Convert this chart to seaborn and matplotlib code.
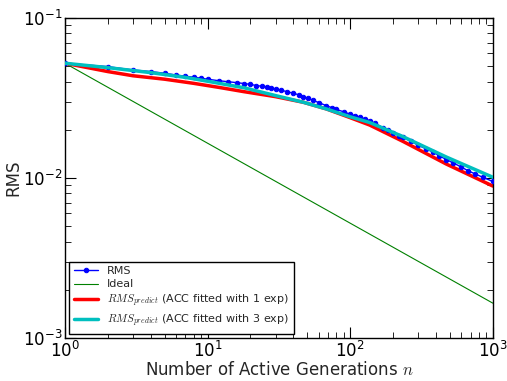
import numpy as np
import pandas as pd
import matplotlib
matplotlib.use("Agg")
import matplotlib.pyplot as plt
import seaborn as sns

# --- data ---
rms_n = [1, 2, 3, 4, 5, 6, 7, 8, 9, 10, 12, 14, 16, 18, 20, 22, 24, 26, 28, 30,
         33, 36, 40, 44, 47, 51, 55, 60, 68, 74, 80, 90, 100, 108, 117, 127, 137,
         150, 170, 185, 200, 220, 235, 265, 300, 340, 380, 420, 473, 530, 600,
         670, 750, 850, 1000]
rms_v = [0.0521, 0.0496, 0.0473, 0.0462, 0.0451, 0.0440, 0.0432, 0.0426, 0.0420,
         0.0414, 0.0405, 0.0399, 0.0394, 0.0389, 0.0384, 0.0378, 0.0374, 0.0370,
         0.0365, 0.0360, 0.0353, 0.0346, 0.0338, 0.0330, 0.0322, 0.0314, 0.0305,
         0.0296, 0.0283, 0.0275, 0.0268, 0.0259, 0.0250, 0.0245, 0.0240, 0.0234,
         0.0228, 0.0219, 0.0206, 0.0199, 0.0192, 0.0184, 0.0179, 0.0170, 0.0160,
         0.0152, 0.0145, 0.0138, 0.0130, 0.0124, 0.0117, 0.0111, 0.0106, 0.0101,
         0.0095]

ideal_n = [1, 1000]
ideal_v = [0.0521, 0.00165]

pred1_n = [1, 2, 3, 5, 8, 12, 18, 30, 47, 68, 100, 137, 235, 473, 1000]
pred1_v = [0.0521, 0.0462, 0.0435, 0.0414, 0.0390, 0.0368, 0.0346, 0.0322, 0.0297,
           0.0270, 0.0238, 0.0214, 0.0169, 0.0122, 0.0089]

pred3_n = [1, 2, 4, 7, 10, 18, 30, 47, 68, 100, 137, 235, 473, 1000]
pred3_v = [0.0521, 0.0489, 0.0455, 0.0425, 0.0402, 0.0366, 0.0327, 0.0297, 0.0270,
           0.0241, 0.0222, 0.0181, 0.0135, 0.0101]

labels = ["RMS", "Ideal",
          r"$RMS_{predict}$ (ACC fitted with 1 exp)",
          r"$RMS_{predict}$ (ACC fitted with 3 exp)"]

sns.set_style("ticks")
plt.rcParams.update({
    "font.family": ["DejaVu Sans"],
    "mathtext.fontset": "cm",
    "xtick.direction": "in", "ytick.direction": "in",
    "xtick.top": True, "ytick.right": True,
    "xtick.major.size": 8, "ytick.major.size": 8,
    "xtick.minor.size": 4, "ytick.minor.size": 4,
    "xtick.major.width": 0.8, "ytick.major.width": 0.8,
    "axes.edgecolor": "black", "axes.linewidth": 1.0,
    "xtick.color": "black", "ytick.color": "black",
})

fig = plt.figure(figsize=(5.07, 3.81), dpi=100)
ax = fig.add_axes([0.128, 0.113, 0.844, 0.840])

df_rms = pd.DataFrame({"n": rms_n, "v": rms_v})
df_ideal = pd.DataFrame({"n": ideal_n, "v": ideal_v})
df_p1 = pd.DataFrame({"n": pred1_n, "v": pred1_v})
df_p3 = pd.DataFrame({"n": pred3_n, "v": pred3_v})

sns.lineplot(data=df_rms, x="n", y="v", ax=ax, color="#0000ff", lw=1,
             marker="o", markersize=3.2, markeredgecolor="#0000ff", label=labels[0], zorder=3)
sns.lineplot(data=df_ideal, x="n", y="v", ax=ax, color="#008000", lw=0.8,
             label=labels[1], zorder=2)
sns.lineplot(data=df_p1, x="n", y="v", ax=ax, color="#ff0000", lw=2.5,
             label=labels[2], zorder=2)
sns.lineplot(data=df_p3, x="n", y="v", ax=ax, color="#00bfbf", lw=2.5,
             label=labels[3], zorder=4)

ax.set_xscale("log")
ax.set_yscale("log")
ax.set_xlim(1, 1000)
ax.set_ylim(1e-3, 1e-1)
ax.set_xlabel(r"Number of Active Generations $n$", fontsize=12, labelpad=0)
ax.set_ylabel("RMS", fontsize=12, labelpad=0)
ax.tick_params(axis="both", which="major", labelsize=12, pad=2)
for s in ax.spines.values():
    s.set_visible(True)
    s.set_color("black")

leg = ax.legend(loc="lower left", fontsize=8, frameon=True, fancybox=False,
                edgecolor="black", framealpha=1, borderaxespad=0.4,
                handlelength=2.2, labelspacing=0.3)
leg.get_frame().set_linewidth(1.0)

fig.savefig("out.png", dpi=100)
